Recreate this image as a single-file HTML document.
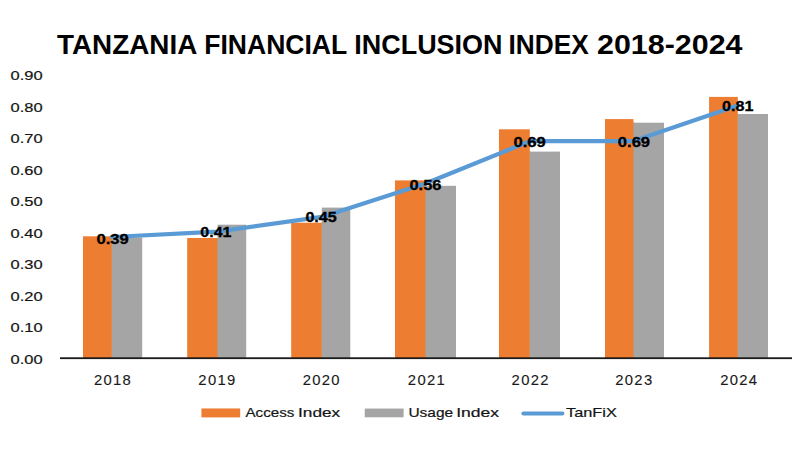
<!DOCTYPE html><html><head><meta charset="utf-8"><style>html,body{margin:0;padding:0;background:#fff;width:800px;height:450px;overflow:hidden}svg{display:block}text{font-family:"Liberation Sans",sans-serif}</style></head><body>
<svg width="800" height="450" viewBox="0 0 800 450">
<rect width="800" height="450" fill="#fff"/>
<text x="57.00" y="54" font-size="26.8" font-weight="bold" fill="#000" textLength="140.25" lengthAdjust="spacingAndGlyphs">TANZANIA</text>
<text x="204.25" y="54" font-size="26.8" font-weight="bold" fill="#000" textLength="143.00" lengthAdjust="spacingAndGlyphs">FINANCIAL</text>
<text x="354.25" y="54" font-size="26.8" font-weight="bold" fill="#000" textLength="148.25" lengthAdjust="spacingAndGlyphs">INCLUSION</text>
<text x="508.50" y="54" font-size="26.8" font-weight="bold" fill="#000" textLength="80.25" lengthAdjust="spacingAndGlyphs">INDEX</text>
<text x="597.00" y="54" font-size="26.8" font-weight="bold" fill="#000" textLength="145.50" lengthAdjust="spacingAndGlyphs">2018-2024</text>
<text x="10.6" y="364.3" font-size="13.4" fill="#141414" stroke="#141414" stroke-width="0.2" textLength="32" lengthAdjust="spacingAndGlyphs">0.00</text>
<text x="10.6" y="331.7" font-size="13.4" fill="#141414" stroke="#141414" stroke-width="0.2" textLength="32" lengthAdjust="spacingAndGlyphs">0.10</text>
<text x="10.6" y="300.9" font-size="13.4" fill="#141414" stroke="#141414" stroke-width="0.2" textLength="32" lengthAdjust="spacingAndGlyphs">0.20</text>
<text x="10.6" y="268.5" font-size="13.4" fill="#141414" stroke="#141414" stroke-width="0.2" textLength="32" lengthAdjust="spacingAndGlyphs">0.30</text>
<text x="10.6" y="237.7" font-size="13.4" fill="#141414" stroke="#141414" stroke-width="0.2" textLength="32" lengthAdjust="spacingAndGlyphs">0.40</text>
<text x="10.6" y="206.0" font-size="13.4" fill="#141414" stroke="#141414" stroke-width="0.2" textLength="32" lengthAdjust="spacingAndGlyphs">0.50</text>
<text x="10.6" y="175.4" font-size="13.4" fill="#141414" stroke="#141414" stroke-width="0.2" textLength="32" lengthAdjust="spacingAndGlyphs">0.60</text>
<text x="10.6" y="142.6" font-size="13.4" fill="#141414" stroke="#141414" stroke-width="0.2" textLength="32" lengthAdjust="spacingAndGlyphs">0.70</text>
<text x="10.6" y="112.0" font-size="13.4" fill="#141414" stroke="#141414" stroke-width="0.2" textLength="32" lengthAdjust="spacingAndGlyphs">0.80</text>
<text x="10.6" y="79.6" font-size="13.4" fill="#141414" stroke="#141414" stroke-width="0.2" textLength="32" lengthAdjust="spacingAndGlyphs">0.90</text>
<rect x="83" y="236.3" width="28.8" height="121.9" fill="#ED7D31"/>
<rect x="111.30" y="237.5" width="1.5" height="120.7" fill="#ED7D31"/>
<rect x="111.8" y="237.5" width="30.4" height="120.7" fill="#A5A5A5"/>
<rect x="187.2" y="238" width="30.3" height="120.2" fill="#ED7D31"/>
<rect x="217.00" y="238" width="1.5" height="120.2" fill="#ED7D31"/>
<rect x="217.5" y="224.7" width="28.7" height="133.5" fill="#A5A5A5"/>
<rect x="291.2" y="222.7" width="30.6" height="135.5" fill="#ED7D31"/>
<rect x="321.30" y="222.7" width="1.5" height="135.5" fill="#ED7D31"/>
<rect x="321.8" y="207.6" width="28.5" height="150.6" fill="#A5A5A5"/>
<rect x="395" y="180.4" width="30.5" height="177.8" fill="#ED7D31"/>
<rect x="425.00" y="185.8" width="1.5" height="172.4" fill="#ED7D31"/>
<rect x="425.5" y="185.8" width="30.5" height="172.4" fill="#A5A5A5"/>
<rect x="499" y="129.3" width="30.8" height="228.9" fill="#ED7D31"/>
<rect x="529.30" y="151.6" width="1.5" height="206.6" fill="#ED7D31"/>
<rect x="529.8" y="151.6" width="30.2" height="206.6" fill="#A5A5A5"/>
<rect x="605" y="119.1" width="28.5" height="239.1" fill="#ED7D31"/>
<rect x="633.00" y="122.7" width="1.5" height="235.5" fill="#ED7D31"/>
<rect x="633.5" y="122.7" width="30.5" height="235.5" fill="#A5A5A5"/>
<rect x="709.1" y="96.9" width="28.7" height="261.3" fill="#ED7D31"/>
<rect x="737.30" y="114" width="1.5" height="244.2" fill="#ED7D31"/>
<rect x="737.8" y="114" width="30.2" height="244.2" fill="#A5A5A5"/>
<rect x="60" y="357.3" width="732" height="1.8" fill="#1a1a1a"/>
<polyline points="111.8,237.0 217.5,231.6 321.8,216.9 425.5,183.5 529.8,141.2 633.5,141.1 737.8,105.4" fill="none" stroke="#5B9BD5" stroke-width="4.2" stroke-linejoin="round" stroke-linecap="round"/>
<text x="96.40" y="243.90" font-size="14.2" font-weight="bold" fill="#000" stroke="#000" stroke-width="0.3" textLength="32.4" lengthAdjust="spacingAndGlyphs">0.39</text>
<text x="200.30" y="236.60" font-size="14.2" font-weight="bold" fill="#000" stroke="#000" stroke-width="0.3" textLength="31.2" lengthAdjust="spacingAndGlyphs">0.41</text>
<text x="305.40" y="221.50" font-size="14.2" font-weight="bold" fill="#000" stroke="#000" stroke-width="0.3" textLength="31.4" lengthAdjust="spacingAndGlyphs">0.45</text>
<text x="409.40" y="189.50" font-size="14.2" font-weight="bold" fill="#000" stroke="#000" stroke-width="0.3" textLength="32.1" lengthAdjust="spacingAndGlyphs">0.56</text>
<text x="513.40" y="146.50" font-size="14.2" font-weight="bold" fill="#000" stroke="#000" stroke-width="0.3" textLength="32.4" lengthAdjust="spacingAndGlyphs">0.69</text>
<text x="617.80" y="146.90" font-size="14.2" font-weight="bold" fill="#000" stroke="#000" stroke-width="0.3" textLength="32.3" lengthAdjust="spacingAndGlyphs">0.69</text>
<text x="722.10" y="110.90" font-size="14.2" font-weight="bold" fill="#000" stroke="#000" stroke-width="0.3" textLength="31.4" lengthAdjust="spacingAndGlyphs">0.81</text>
<text transform="translate(93.90,384.9) scale(1.06,1)" x="0" y="0" font-size="14" fill="#1a1a1a" stroke="#1a1a1a" stroke-width="0.12" letter-spacing="1.25">2018</text>
<text transform="translate(198.35,384.9) scale(1.06,1)" x="0" y="0" font-size="14" fill="#1a1a1a" stroke="#1a1a1a" stroke-width="0.12" letter-spacing="1.25">2019</text>
<text transform="translate(302.65,384.9) scale(1.06,1)" x="0" y="0" font-size="14" fill="#1a1a1a" stroke="#1a1a1a" stroke-width="0.12" letter-spacing="1.25">2020</text>
<text transform="translate(407.86,384.9) scale(1.06,1)" x="0" y="0" font-size="14" fill="#1a1a1a" stroke="#1a1a1a" stroke-width="0.12" letter-spacing="1.25">2021</text>
<text transform="translate(511.56,384.9) scale(1.06,1)" x="0" y="0" font-size="14" fill="#1a1a1a" stroke="#1a1a1a" stroke-width="0.12" letter-spacing="1.25">2022</text>
<text transform="translate(615.23,384.9) scale(1.06,1)" x="0" y="0" font-size="14" fill="#1a1a1a" stroke="#1a1a1a" stroke-width="0.12" letter-spacing="1.25">2023</text>
<text transform="translate(720.14,384.9) scale(1.06,1)" x="0" y="0" font-size="14" fill="#1a1a1a" stroke="#1a1a1a" stroke-width="0.12" letter-spacing="1.25">2024</text>
<rect x="201.4" y="408.45" width="38.8" height="8.95" fill="#ED7D31"/>
<text x="245.5" y="416.8" font-size="13.4" fill="#141414" stroke="#141414" stroke-width="0.2" textLength="48.8" lengthAdjust="spacingAndGlyphs">Access</text>
<rect x="364.75" y="408.55" width="38.85" height="8.75" fill="#A5A5A5"/>
<text x="298.1" y="416.8" font-size="13.4" fill="#141414" stroke="#141414" stroke-width="0.2" textLength="42.1" lengthAdjust="spacingAndGlyphs">Index</text>
<text x="408.4" y="416.8" font-size="13.4" fill="#141414" stroke="#141414" stroke-width="0.2" textLength="44.7" lengthAdjust="spacingAndGlyphs">Usage</text>
<text x="456.2" y="416.8" font-size="13.4" fill="#141414" stroke="#141414" stroke-width="0.2" textLength="42.8" lengthAdjust="spacingAndGlyphs">Index</text>
<line x1="523.4" y1="413.4" x2="562.4" y2="413.4" stroke="#5B9BD5" stroke-width="4" stroke-linecap="round"/>
<text x="566.0" y="416.8" font-size="13.4" fill="#141414" stroke="#141414" stroke-width="0.2" textLength="50.8" lengthAdjust="spacingAndGlyphs">TanFiX</text>
</svg></body></html>
